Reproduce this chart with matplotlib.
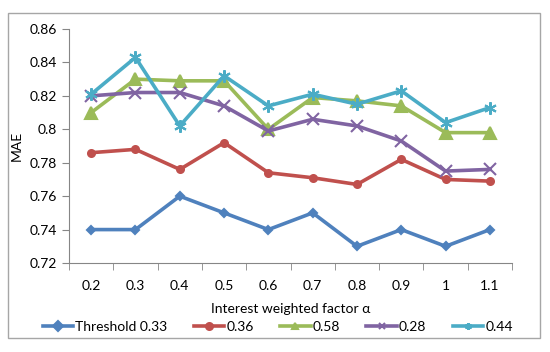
import numpy as np
import matplotlib
matplotlib.use("Agg")
import matplotlib.pyplot as plt
from matplotlib.patches import Rectangle

plt.rcParams['font.family'] = ['Lato', 'DejaVu Sans']

factors = ['0.2', '0.3', '0.4', '0.5', '0.6', '0.7', '0.8', '0.9', '1', '1.1']
labels = ['Threshold 0.33', '0.36', '0.58', '0.28', '0.44']

mae_033 = [0.740, 0.740, 0.760, 0.750, 0.740, 0.750, 0.730, 0.740, 0.730, 0.740]
mae_036 = [0.786, 0.788, 0.776, 0.792, 0.774, 0.771, 0.767, 0.782, 0.770, 0.769]
mae_058 = [0.810, 0.830, 0.829, 0.829, 0.800, 0.819, 0.817, 0.814, 0.798, 0.798]
mae_028 = [0.820, 0.822, 0.822, 0.814, 0.799, 0.806, 0.802, 0.793, 0.775, 0.776]
mae_044 = [0.821, 0.843, 0.802, 0.832, 0.814, 0.821, 0.815, 0.823, 0.804, 0.813]

series = [mae_033, mae_036, mae_058, mae_028, mae_044]
colors = ['#4F81BD', '#C0504D', '#9BBB59', '#8064A2', '#4BACC6']
markers = ['D', 'o', '^', 'x', (6, 2, 0)]
msizes = [4, 5, 8, 8, 9]

fig = plt.figure(figsize=(5.5, 3.52), dpi=100)
ax = fig.add_axes([0.1255, 0.2528, 0.8055, 0.6648])

x = np.arange(len(factors))
for vals, lab, c, m, ms in zip(series, labels, colors, markers, msizes):
    ax.plot(x, vals, color=c, lw=2.6, marker=m, ms=ms, mew=1.5,
            mec=c, mfc=c, label=lab)

ax.set_xlim(-0.5, len(factors) - 0.5)
ax.set_ylim(0.72, 0.86)
ax.set_yticks(np.arange(0.72, 0.861, 0.02))
ax.set_yticklabels(['0.72', '0.74', '0.76', '0.78', '0.8', '0.82', '0.84', '0.86'])
ax.set_xticks(x)
ax.set_xticklabels(factors)
ax.set_xticks(np.arange(-0.5, len(factors)), minor=True)
ax.tick_params(axis='x', which='major', length=0, pad=12, labelsize=10)
ax.tick_params(axis='x', which='minor', length=5, color='#868686', direction='out')
ax.tick_params(axis='y', length=5, color='#868686', labelsize=10, pad=4)

for s in ['top', 'right']:
    ax.spines[s].set_visible(False)
for s in ['left', 'bottom']:
    ax.spines[s].set_color('#868686')
    ax.spines[s].set_linewidth(0.8)

ax.set_ylabel('MAE', fontsize=10)
ax.yaxis.set_label_coords(-0.105, 0.5)
ax.set_xlabel('Interest weighted factor α', fontsize=10, labelpad=8)

leg = fig.legend(loc='center', bbox_to_anchor=(0.505, 0.071), ncol=5,
                 frameon=False, fontsize=10, handlelength=2.2,
                 handletextpad=0.15, columnspacing=1.9, borderaxespad=0)
for h in leg.legend_handles:
    h.set_markersize(5)

fig.patches.append(Rectangle((8 / 550, 1 - 338 / 352), 532 / 550, 325 / 352,
                             transform=fig.transFigure, fill=False,
                             edgecolor='#A6A6A6', lw=1.0))

fig.savefig('out.png', dpi=100)
